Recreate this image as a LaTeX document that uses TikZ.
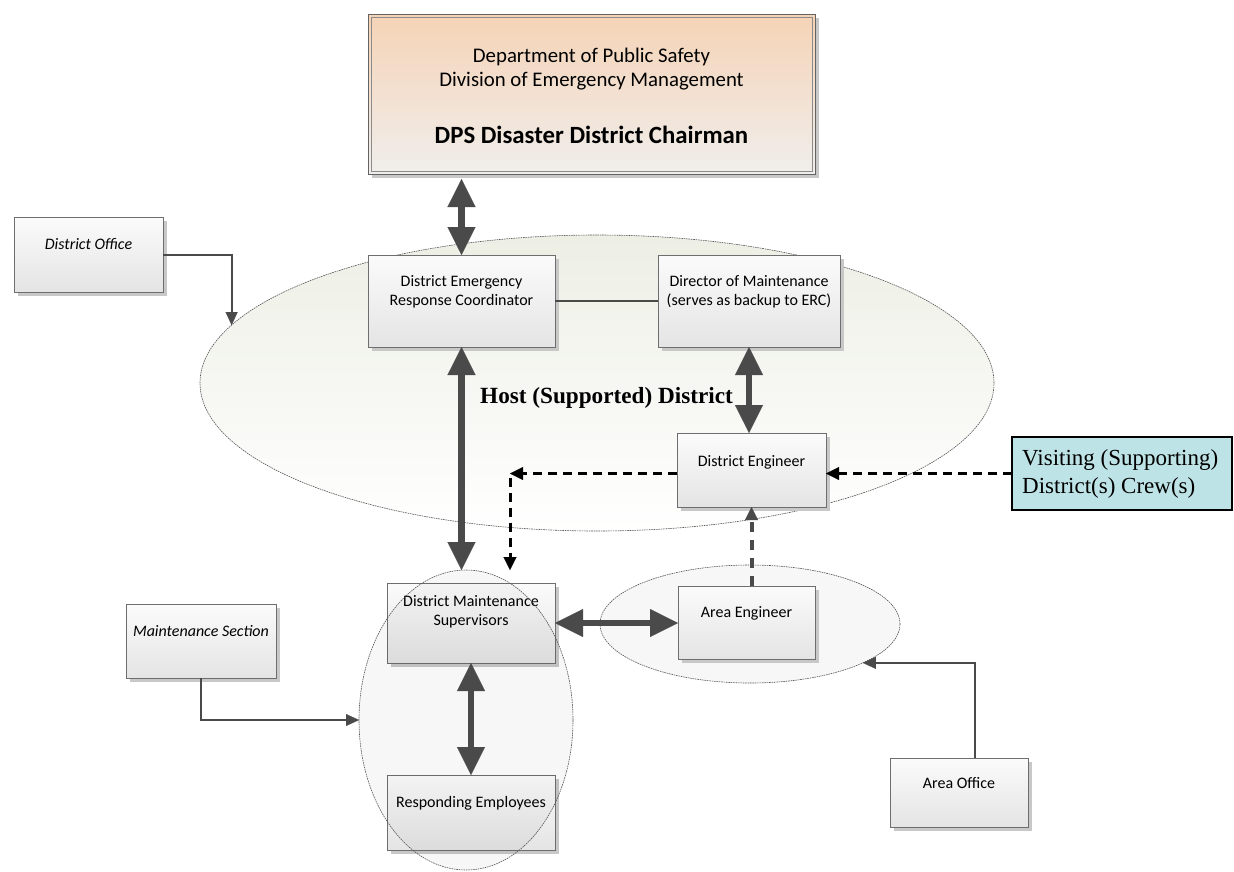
\documentclass[tikz,border=0pt]{standalone}
\usepackage{fontspec}
\setmainfont{Carlito}
\newfontfamily\tnr{Liberation Serif}
\usetikzlibrary{arrows.meta,shadows,shapes.geometric}
\definecolor{boxline}{HTML}{6E6E6E}
\definecolor{boxtop}{HTML}{FBFBFB}
\definecolor{boxbot}{HTML}{E4E4E4}
\definecolor{shadowc}{HTML}{C8C8C8}
\definecolor{arrowc}{HTML}{4A4A4A}
\definecolor{peach}{HTML}{F5D3B6}
\definecolor{peachbot}{HTML}{F0EEEC}
\definecolor{ellline}{HTML}{555555}
\definecolor{elltop}{HTML}{EDEFE5}
\definecolor{visfill}{HTML}{BEE3E6}
\begin{document}
\begin{tikzpicture}[x=1pt,y=-1pt,
  box/.style={rectangle, draw=boxline, line width=0.9pt, top color=boxtop, bottom color=boxbot,
    inner sep=0pt, outer sep=0pt,
    drop shadow={shadow xshift=4pt, shadow yshift=-4pt, fill=shadowc, opacity=1}},
  txt/.style={font=\fontsize{16}{19}\selectfont, align=center, anchor=center, inner sep=0pt},
  itxt/.style={txt, font=\fontsize{16}{19}\selectfont\itshape},
  ell/.style={ellipse, draw=ellline, line width=0.6pt, dash pattern=on 1.6pt off 0.8pt, inner sep=0pt, outer sep=0pt},
  dbl/.style={line width=6.5pt, draw=arrowc,
    {Triangle[length=28pt,width=28pt,line width=0.1pt]}-{Triangle[length=28pt,width=28pt,line width=0.1pt]}},
  thinarr/.style={line width=2pt, draw=arrowc, -{Triangle[length=13pt,width=12pt,line width=0.1pt]}},
  dasharr/.style={line width=3pt, draw=black, dash pattern=on 9pt off 6pt,
    -{Triangle[length=13pt,width=13pt,line width=0.1pt]}},
  grayarr/.style={line width=4pt, draw=arrowc, dash pattern=on 10pt off 8pt,
    -{Triangle[length=13pt,width=13pt,line width=0.1pt]}},
]
\useasboundingbox (0,0) rectangle (1234,871);
\fill[white] (0,0) rectangle (1234,871);

% ellipses (background)
\node[ell, top color=elltop, bottom color=white, minimum width=794pt, minimum height=296pt] (bell) at (597,383) {};
\node[ell, fill=white!97!black, minimum width=300pt, minimum height=118pt] (aell) at (750,624) {};

% top box
\node[rectangle, draw=boxline!90!black, line width=1pt, top color=peach, bottom color=peachbot,
  minimum width=447pt, minimum height=160pt, inner sep=0pt, outer sep=0pt,
  drop shadow={shadow xshift=4pt, shadow yshift=-4pt, fill=shadowc, opacity=1},
  label={[txt, font=\fontsize{20.8}{24}\selectfont, yshift=-55pt]north:{Department of Public Safety\\Division of Emergency Management}},
  label={[txt, font=\fontsize{24.8}{28}\selectfont\bfseries, yshift=-121pt]north:{DPS Disaster District Chairman}}]
  (top) at (591.5,94) {};
\draw[draw=boxline!80, line width=0.8pt] ([shift={(3,3)}]top.north west) rectangle ([shift={(-3,-3)}]top.south east);

% boxes
\node[box, minimum width=149pt, minimum height=75pt,
  label={[itxt, yshift=-27pt]north:{District Office}}] (do) at (88.5,254.5) {};
\node[box, minimum width=187pt, minimum height=92pt,
  label={[txt, yshift=-36.5pt]north:{District Emergency\\Response Coordinator}}] (derc) at (461.5,301) {};
\node[box, minimum width=182pt, minimum height=92pt,
  label={[txt, yshift=-36.5pt]north:{Director of Maintenance\\(serves as backup to ERC)}}] (dir) at (749,301) {};
\node[box, minimum width=149pt, minimum height=74pt,
  label={[txt, yshift=-29.5pt]north:{District Engineer}}] (de) at (751.5,470) {};
\node[rectangle, draw=black, line width=1.3pt, fill=visfill, minimum width=220pt, minimum height=73pt,
  inner sep=0pt, outer sep=0pt,
  label={[txt, font=\fontsize{23}{28}\selectfont\tnr, align=left, anchor=west, xshift=10pt]west:{Visiting (Supporting)\\District(s) Crew(s)}}]
  (vis) at (1122,473.5) {};
\node[box, minimum width=168pt, minimum height=80pt,
  label={[txt, yshift=-29pt]north:{District Maintenance\\Supervisors}}] (dms) at (471,623) {};
\node[box, minimum width=137pt, minimum height=73pt,
  label={[txt, yshift=-27pt]north:{Area Engineer}}] (ae) at (746.5,622.5) {};
\node[box, minimum width=150pt, minimum height=74pt,
  label={[itxt, yshift=-27pt]north:{Maintenance Section}}] (ms) at (201,641) {};
\node[box, minimum width=168pt, minimum height=75pt,
  label={[txt, yshift=-28pt]north:{Responding Employees}}] (resp) at (471,812.5) {};
\node[box, minimum width=138pt, minimum height=69pt,
  label={[txt, yshift=-25pt]north:{Area Office}}] (ao) at (959,792.5) {};

% left ellipse drawn over the boxes
\node[ell, fill=black, fill opacity=0.03, minimum width=214pt, minimum height=300pt] (lell) at (466,720) {};

% host label
\node[inner sep=0pt, anchor=base, font=\fontsize{23.2}{28}\selectfont\tnr\bfseries] (host) at (606.5,403.5) {Host (Supported) District};

% connectors
\coordinate (corner) at (510,473.5);
\draw[dbl] ([yshift=-5pt]top.south -| derc.north) -- (derc.north);
\draw[dbl] (derc.south) -- (derc.south |- lell.north);
\draw[dbl] (dir.south) -- (dir.south |- de.north);
\draw[dbl] (dms.east) -- (dms.east -| ae.west);
\draw[dbl] (dms.south) -- (resp.north);
\draw[line width=2pt, draw=arrowc] (derc.east) -- (dir.west);
\draw[thinarr] (do.east) -| (bell.171.85);
\draw[thinarr] (ms.south) |- (lell.west);
\draw[thinarr] ([xshift=16pt]ao.north) |- (aell.-19.1);
\draw[dasharr] (vis.west) -- (vis.west -| de.east);
\draw[dasharr] (vis.west -| de.west) -- (corner);
\draw[dasharr] ([yshift=-4pt]corner) -- (corner |- lell.north);
\draw[grayarr] (de.south |- ae.north) -- (de.south);
\end{tikzpicture}
\end{document}
